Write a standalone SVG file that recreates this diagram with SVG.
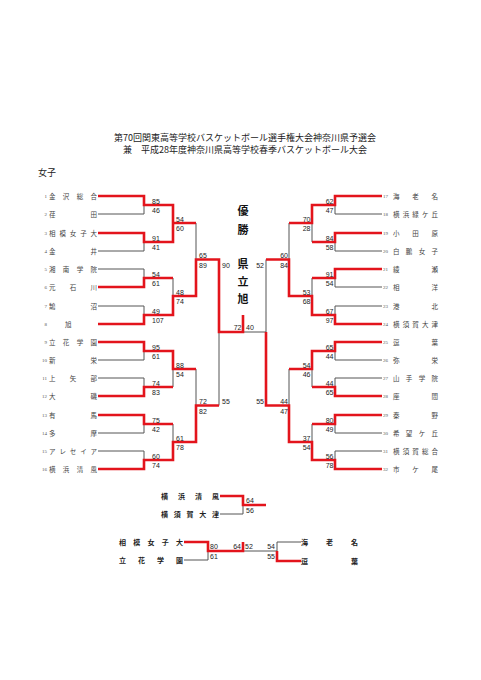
<svg xmlns="http://www.w3.org/2000/svg" width="481" height="680" viewBox="0 0 481 680">
<style>
.bg{fill:#fff}
.ttl{font-family:"Noto Sans CJK JP",sans-serif;font-size:9px;fill:#222;text-anchor:middle}
.cat{font-family:"Noto Sans CJK JP",sans-serif;font-size:9px;fill:#222}
.num{font-family:"Liberation Serif",serif;font-size:5px;fill:#555}
.nm{font-family:"Noto Sans CJK JP",sans-serif;font-size:6.5px;fill:#444}
.sc{font-family:"Liberation Sans",Arial,sans-serif;font-size:7px;fill:#222}
.scr{font-family:"Liberation Sans",Arial,sans-serif;font-size:7px;fill:#222;text-anchor:end}
.champ{font-family:"Noto Sans CJK JP",sans-serif;font-size:11px;font-weight:bold;fill:#111;text-anchor:middle}
.bn{font-family:"Noto Sans CJK JP",sans-serif;font-size:7px;font-weight:bold;fill:#222}
.g{fill:none;stroke:#555;stroke-width:1}
.r{fill:none;stroke:#e3141c;stroke-width:2.6}
</style>
<rect class="bg" x="0" y="0" width="481" height="680"/>
<g id="title">
<text class="ttl" x="245" y="141">第70回関東高等学校バスケットボール選手権大会神奈川県予選会</text>
<text class="ttl" x="245" y="153">兼　平成28年度神奈川県高等学校春季バスケットボール大会</text>
<text class="cat" x="38" y="176">女子</text>
</g>
<g id="champion">
<text class="champ" x="243" y="215">優</text>
<text class="champ" x="243" y="234">勝</text>
<text class="champ" x="243" y="268">県</text>
<text class="champ" x="243" y="286">立</text>
<text class="champ" x="243" y="303">旭</text>
</g>
<g id="teams-left">
<g id="t1"><text class="num" x="47" y="198" text-anchor="end">1</text><text class="nm" x="49" y="198.5" textLength="48" lengthAdjust="spacing">金沢総合</text></g>
<g id="t2"><text class="num" x="47" y="216" text-anchor="end">2</text><text class="nm" x="49" y="216.5" textLength="48" lengthAdjust="spacing">荏田</text></g>
<g id="t3"><text class="num" x="47" y="235" text-anchor="end">3</text><text class="nm" x="49" y="235.5" textLength="48" lengthAdjust="spacing">相模女子大</text></g>
<g id="t4"><text class="num" x="47" y="253" text-anchor="end">4</text><text class="nm" x="49" y="253.5" textLength="48" lengthAdjust="spacing">金井</text></g>
<g id="t5"><text class="num" x="47" y="271" text-anchor="end">5</text><text class="nm" x="49" y="271.5" textLength="48" lengthAdjust="spacing">湘南学院</text></g>
<g id="t6"><text class="num" x="47" y="289" text-anchor="end">6</text><text class="nm" x="49" y="289.5" textLength="48" lengthAdjust="spacing">元石川</text></g>
<g id="t7"><text class="num" x="47" y="308" text-anchor="end">7</text><text class="nm" x="49" y="308.5" textLength="48" lengthAdjust="spacing">鵠沼</text></g>
<g id="t8"><text class="num" x="47" y="326" text-anchor="end">8</text><text class="nm" x="65" y="326.5">旭</text></g>
<g id="t9"><text class="num" x="47" y="344" text-anchor="end">9</text><text class="nm" x="49" y="344.5" textLength="48" lengthAdjust="spacing">立花学園</text></g>
<g id="t10"><text class="num" x="47" y="362" text-anchor="end">10</text><text class="nm" x="49" y="362.5" textLength="48" lengthAdjust="spacing">新栄</text></g>
<g id="t11"><text class="num" x="47" y="380" text-anchor="end">11</text><text class="nm" x="49" y="380.5" textLength="48" lengthAdjust="spacing">上矢部</text></g>
<g id="t12"><text class="num" x="47" y="398" text-anchor="end">12</text><text class="nm" x="49" y="398.5" textLength="48" lengthAdjust="spacing">大磯</text></g>
<g id="t13"><text class="num" x="47" y="417" text-anchor="end">13</text><text class="nm" x="49" y="417.5" textLength="48" lengthAdjust="spacing">有馬</text></g>
<g id="t14"><text class="num" x="47" y="435" text-anchor="end">14</text><text class="nm" x="49" y="435.5" textLength="48" lengthAdjust="spacing">多摩</text></g>
<g id="t15"><text class="num" x="47" y="453" text-anchor="end">15</text><text class="nm" x="49" y="453.5" textLength="48" lengthAdjust="spacing">アレセイア</text></g>
<g id="t16"><text class="num" x="47" y="471" text-anchor="end">16</text><text class="nm" x="49" y="471.5" textLength="48" lengthAdjust="spacing">横浜清風</text></g>
</g>
<g id="teams-right">
<g id="t17"><text class="num" x="383" y="198">17</text><text class="nm" x="393" y="198.5" textLength="45" lengthAdjust="spacing">海老名</text></g>
<g id="t18"><text class="num" x="383" y="216">18</text><text class="nm" x="393" y="216.5" textLength="45" lengthAdjust="spacing">横浜緑ケ丘</text></g>
<g id="t19"><text class="num" x="383" y="235">19</text><text class="nm" x="393" y="235.5" textLength="45" lengthAdjust="spacing">小田原</text></g>
<g id="t20"><text class="num" x="383" y="253">20</text><text class="nm" x="393" y="253.5" textLength="45" lengthAdjust="spacing">白鵬女子</text></g>
<g id="t21"><text class="num" x="383" y="271">21</text><text class="nm" x="393" y="271.5" textLength="45" lengthAdjust="spacing">綾瀬</text></g>
<g id="t22"><text class="num" x="383" y="289">22</text><text class="nm" x="393" y="289.5" textLength="45" lengthAdjust="spacing">相洋</text></g>
<g id="t23"><text class="num" x="383" y="308">23</text><text class="nm" x="393" y="308.5" textLength="45" lengthAdjust="spacing">港北</text></g>
<g id="t24"><text class="num" x="383" y="326">24</text><text class="nm" x="393" y="326.5" textLength="45" lengthAdjust="spacing">横須賀大津</text></g>
<g id="t25"><text class="num" x="383" y="344">25</text><text class="nm" x="393" y="344.5" textLength="45" lengthAdjust="spacing">逗葉</text></g>
<g id="t26"><text class="num" x="383" y="362">26</text><text class="nm" x="393" y="362.5" textLength="45" lengthAdjust="spacing">弥栄</text></g>
<g id="t27"><text class="num" x="383" y="380">27</text><text class="nm" x="393" y="380.5" textLength="45" lengthAdjust="spacing">山手学院</text></g>
<g id="t28"><text class="num" x="383" y="398">28</text><text class="nm" x="393" y="398.5" textLength="45" lengthAdjust="spacing">座間</text></g>
<g id="t29"><text class="num" x="383" y="417">29</text><text class="nm" x="393" y="417.5" textLength="45" lengthAdjust="spacing">秦野</text></g>
<g id="t30"><text class="num" x="383" y="435">30</text><text class="nm" x="393" y="435.5" textLength="45" lengthAdjust="spacing">希望ケ丘</text></g>
<g id="t31"><text class="num" x="383" y="453">31</text><text class="nm" x="393" y="453.5" textLength="45" lengthAdjust="spacing">横須賀総合</text></g>
<g id="t32"><text class="num" x="383" y="471">32</text><text class="nm" x="393" y="471.5" textLength="45" lengthAdjust="spacing">市ケ尾</text></g>
</g>
<g id="teams-bottom">
<g id="b1"><text class="bn" x="161" y="498.5" textLength="58" lengthAdjust="spacing">横浜清風</text></g>
<g id="b2"><text class="bn" x="161" y="516.5" textLength="58" lengthAdjust="spacing">横須賀大津</text></g>
<g id="b3"><text class="bn" x="119" y="544.5" textLength="64" lengthAdjust="spacing">相模女子大</text></g>
<g id="b4"><text class="bn" x="119" y="562.5" textLength="64" lengthAdjust="spacing">立花学園</text></g>
<g id="b5"><text class="bn" x="301" y="544.5" textLength="57" lengthAdjust="spacing">海老名</text></g>
<g id="b6"><text class="bn" x="301" y="563.5" textLength="57" lengthAdjust="spacing">逗葉</text></g>
</g>
<g id="connectors">
<!-- gray base left -->
<path class="g" d="M98,196H144V214H98M144,205H173 M98,233H144V251H98M144,242H173 M98,269H144V287H98M144,278H173 M98,306H144V324H98M144,315H173 M98,342H144V360H98M144,351H173 M98,378H144V396H98M144,387H173 M98,415H144V433H98M144,424H173 M98,451H144V469H98M144,460H173"/>
<path class="g" d="M173,205V242M173,223H196 M173,278V315M173,296H196 M173,351V387M173,369H196 M173,424V460M173,442H196"/>
<path class="g" d="M196,223V296M196,259.5H219 M196,369V442M196,405.5H219 M219,259.5V405.5 M219,332H266"/>
<!-- gray base right -->
<path class="g" d="M382,196H335V214H382M335,205H312 M382,233H335V251H382M335,242H312 M382,269H335V287H382M335,278H312 M382,306H335V324H382M335,315H312 M382,342H335V360H382M335,351H312 M382,378H335V396H382M335,387H312 M382,415H335V433H382M335,424H312 M382,451H335V469H382M335,460H312"/>
<path class="g" d="M312,205V242M312,223H289 M312,278V315M312,296H289 M312,351V387M312,369H289 M312,424V460M312,442H289"/>
<path class="g" d="M289,223V296M289,259.5H266 M289,369V442M289,405.5H266 M266,259.5V405.5"/>
<!-- red left -->
<path class="r" d="M98,196H144V205H173V223H196 M98,233H144V242H173V223 M98,287H144V278H173 M98,324H144V315H173V296H196V259.5H219V332H243V315"/>
<path class="r" d="M98,342H144V351H173V369H196 M98,396H144V387H173 M98,415H144V424H173 M98,469H144V460H173V442H196V405.5H219"/>
<!-- red right -->
<path class="r" d="M382,196H335V205H312V223H289 M382,233H335V242H312 M382,269H335V278H312 M382,324H335V315H312V296H289V259.5H266"/>
<path class="r" d="M382,342H335V351H312V369H289 M382,396H335V387H312 M382,415H335V424H312 M382,469H335V460H312V442H289V405.5H266V332"/>
<!-- bottom consolation -->
<path class="g" d="M220,496H243V514H220 M243,505H266"/>
<path class="r" d="M220,496H243V505H266"/>
<path class="g" d="M184,542H208V560H184 M208,551H277 M301,542H277V561H301"/>
<path class="r" d="M184,542H208V551H243V542 M301,561H277V551"/>
</g>
<g id="scores">
<text class="sc" x="152" y="203.5">85</text><text class="sc" x="152" y="213">46</text>
<text class="sc" x="152" y="240.5">91</text><text class="sc" x="152" y="250">41</text>
<text class="sc" x="152" y="276.5">54</text><text class="sc" x="152" y="286">61</text>
<text class="sc" x="152" y="313.5">49</text><text class="sc" x="152" y="323">107</text>
<text class="sc" x="152" y="349.5">95</text><text class="sc" x="152" y="359">61</text>
<text class="sc" x="152" y="385.5">74</text><text class="sc" x="152" y="395">83</text>
<text class="sc" x="152" y="422.5">75</text><text class="sc" x="152" y="432">42</text>
<text class="sc" x="152" y="458.5">60</text><text class="sc" x="152" y="468">74</text>
<text class="sc" x="176" y="221.5">54</text><text class="sc" x="176" y="231">60</text>
<text class="sc" x="176" y="294.5">48</text><text class="sc" x="176" y="304">74</text>
<text class="sc" x="176" y="367.5">88</text><text class="sc" x="176" y="377">54</text>
<text class="sc" x="176" y="440.5">61</text><text class="sc" x="176" y="450">78</text>
<text class="sc" x="199" y="258">65</text><text class="sc" x="199" y="267.5">89</text>
<text class="sc" x="199" y="404">72</text><text class="sc" x="199" y="413.5">82</text>
<text class="sc" x="222" y="267.5">90</text><text class="sc" x="222" y="404">55</text>
<text class="scr" x="241.5" y="330">72</text><text class="sc" x="246" y="330">40</text>
<text class="scr" x="264" y="267.5">52</text><text class="scr" x="264" y="404">55</text>
<text class="scr" x="288" y="258">60</text><text class="scr" x="288" y="267.5">84</text>
<text class="scr" x="288" y="404">44</text><text class="scr" x="288" y="413.5">47</text>
<text class="scr" x="310.5" y="221.5">70</text><text class="scr" x="310.5" y="231">28</text>
<text class="scr" x="310.5" y="294.5">53</text><text class="scr" x="310.5" y="304">68</text>
<text class="scr" x="310.5" y="367.5">54</text><text class="scr" x="310.5" y="377">46</text>
<text class="scr" x="310.5" y="440.5">37</text><text class="scr" x="310.5" y="450">54</text>
<text class="scr" x="333.5" y="203.5">62</text><text class="scr" x="333.5" y="213">47</text>
<text class="scr" x="333.5" y="240.5">84</text><text class="scr" x="333.5" y="250">58</text>
<text class="scr" x="333.5" y="276.5">91</text><text class="scr" x="333.5" y="286">54</text>
<text class="scr" x="333.5" y="313.5">67</text><text class="scr" x="333.5" y="323">97</text>
<text class="scr" x="333.5" y="349.5">65</text><text class="scr" x="333.5" y="359">44</text>
<text class="scr" x="333.5" y="385.5">44</text><text class="scr" x="333.5" y="395">65</text>
<text class="scr" x="333.5" y="422.5">80</text><text class="scr" x="333.5" y="432">49</text>
<text class="scr" x="333.5" y="458.5">56</text><text class="scr" x="333.5" y="468">78</text>
<text class="sc" x="246" y="503">64</text><text class="sc" x="246" y="513">56</text>
<text class="sc" x="210" y="549">80</text><text class="sc" x="210" y="558.5">61</text>
<text class="scr" x="241" y="549">64</text><text class="sc" x="245" y="549">52</text>
<text class="scr" x="275" y="548.5">54</text><text class="scr" x="275" y="558.5">55</text>
</g>
</svg>
